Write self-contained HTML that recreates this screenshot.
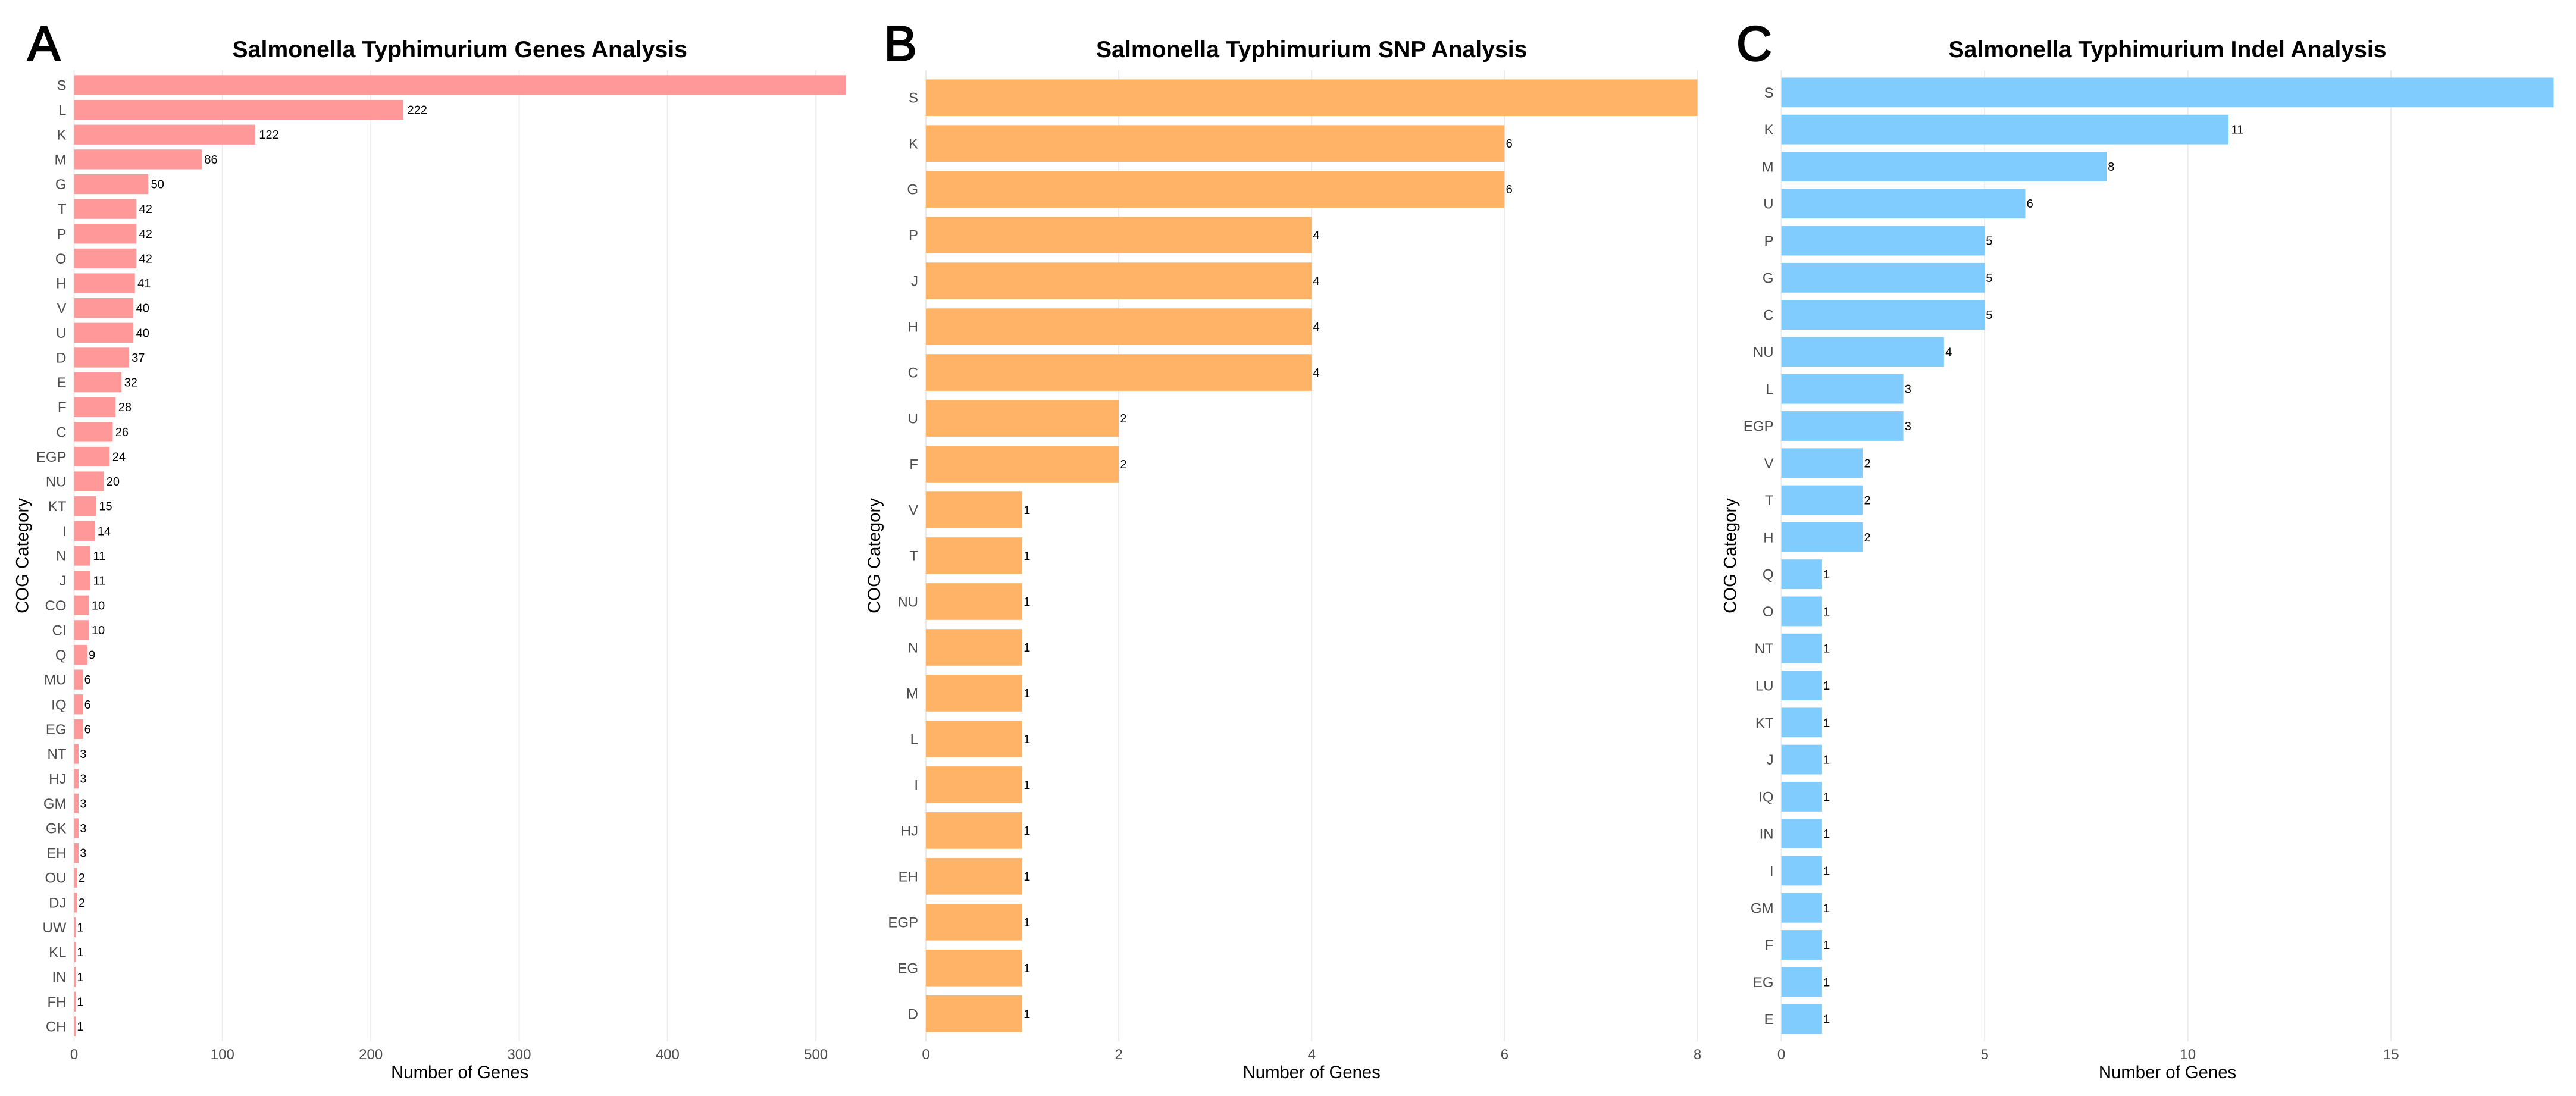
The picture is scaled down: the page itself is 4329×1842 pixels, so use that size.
<!DOCTYPE html>
<html lang="en">
<head>
<meta charset="utf-8">
<title>Salmonella Typhimurium COG Analysis</title>
<style>
html,body{margin:0;padding:0;background:#fff;width:4329px;height:1842px;overflow:hidden}
svg{display:block;font-family:"Liberation Sans",Arial,sans-serif}
</style>
</head>
<body>
<svg id="figure" xmlns="http://www.w3.org/2000/svg" width="4329" height="1842" viewBox="0 0 4329 1842">
<rect x="0" y="0" width="4329" height="1842" fill="#ffffff"/>
<text x="46" y="101.5" font-size="83" font-weight="400" fill="#000" stroke="#000" stroke-width="2.4">A</text>
<text x="1485.5" y="101.5" font-size="83" font-weight="400" fill="#000" stroke="#000" stroke-width="2.4">B</text>
<text x="2918" y="101.5" font-size="83" font-weight="400" fill="#000" stroke="#000" stroke-width="2.4">C</text>
</svg>
<script>
const genesCategories = ["S","L","K","M","G","T","P","O","H","V","U","D","E","F","C","EGP","NU","KT","I","N","J","CO","CI","Q","MU","IQ","EG","NT","HJ","GM","GK","EH","OU","DJ","UW","KL","IN","FH","CH"];
const genesValues = [520,222,122,86,50,42,42,42,41,40,40,37,32,28,26,24,20,15,14,11,11,10,10,9,6,6,6,3,3,3,3,3,2,2,1,1,1,1,1];
const genesTicks = [0,100,200,300,400,500];

const snpCategories = ["S","K","G","P","J","H","C","U","F","V","T","NU","N","M","L","I","HJ","EH","EGP","EG","D"];
const snpValues = [8,6,6,4,4,4,4,2,2,1,1,1,1,1,1,1,1,1,1,1,1];
const snpTicks = [0,2,4,6,8];

const indelCategories = ["S","K","M","U","P","G","C","NU","L","EGP","V","T","H","Q","O","NT","LU","KT","J","IQ","IN","I","GM","F","EG","E"];
const indelValues = [19,11,8,6,5,5,5,4,3,3,2,2,2,1,1,1,1,1,1,1,1,1,1,1,1,1];
const indelTicks = [0,5,10,15];

const NS = "http://www.w3.org/2000/svg";
const svg = document.getElementById("figure");
const TOP = 118, BOTTOM = 1750;

function make(tag, attrs, parent, txt) {
  const n = document.createElementNS(NS, tag);
  for (const k in attrs) n.setAttribute(k, attrs[k]);
  if (txt !== undefined) n.textContent = txt;
  parent.appendChild(n);
  return n;
}

function drawPanel(id, title, cats, vals, ticks, left, right, color, yTitleX) {
  const domainMax = Math.max.apply(null, vals);
  const x = function (v) { return left + (v / domainMax) * (right - left); };
  const step = (BOTTOM - TOP) / (cats.length + 0.2);
  const y = function (i) { return TOP + step * (0.6 + i); };
  const barH = step * 0.8;
  const center = (left + right) / 2;

  const g = make("g", {}, svg);
  
  

  const clip = make("clipPath", { id: id + "-clip" }, g);
  make("rect", { x: left, y: TOP, width: right - left, height: BOTTOM - TOP }, clip);

  const t = make("text", { x: center, y: 96, "text-anchor": "middle", "font-size": 39.2, "font-weight": 700, fill: "#000" }, g, title);
  
  

  ticks.forEach(function (tv) {
    const line = make("line", { x1: x(tv), x2: x(tv), y1: TOP, y2: BOTTOM, stroke: "#EBEBEB", "stroke-width": 2 }, g);
    
    
    const lab = make("text", { x: x(tv), y: 1780, "text-anchor": "middle", "font-size": 24, fill: "#4D4D4D" }, g, String(tv));
    
    
  });

  const labelsClip = make("g", { "clip-path": "url(#" + id + "-clip)" }, g);
  
  

  cats.forEach(function (c, i) {
    const v = vals[i];
    const cy = y(i);
    const bar = make("rect", { x: x(0), y: cy - barH / 2, width: x(v) - x(0), height: barH, fill: color }, labelsClip);
    
    

    const tw = String(v).length * 11.12;
    const val = make("text", { x: x(v) + tw * 0.2, y: cy + 7, "font-size": 20, fill: "#000" }, labelsClip, String(v));
    
    

    const cat = make("text", { x: left - 13, y: cy + 8.5, "text-anchor": "end", "font-size": 24, fill: "#4D4D4D" }, g, c);
    
    
  });

  const xt = make("text", { x: center, y: 1812, "text-anchor": "middle", "font-size": 29.3, fill: "#000" }, g, "Number of Genes");
  
  

  const yt = make("text", { x: 0, y: 0, "text-anchor": "middle", "font-size": 29.3, fill: "#000", transform: "translate(" + yTitleX + " 934) rotate(-90)" }, g, "COG Category");
  
  
}

drawPanel("genes", "Salmonella Typhimurium Genes Analysis", genesCategories, genesValues, genesTicks, 124.5, 1421, "#FF9999", 47.7);
drawPanel("snp", "Salmonella Typhimurium SNP Analysis", snpCategories, snpValues, snpTicks, 1556, 2852.5, "#FFB366", 1479);
drawPanel("indel", "Salmonella Typhimurium Indel Analysis", indelCategories, indelValues, indelTicks, 2993.6, 4291.5, "#80CCFF", 2917.7);
</script>
</body>
</html>
